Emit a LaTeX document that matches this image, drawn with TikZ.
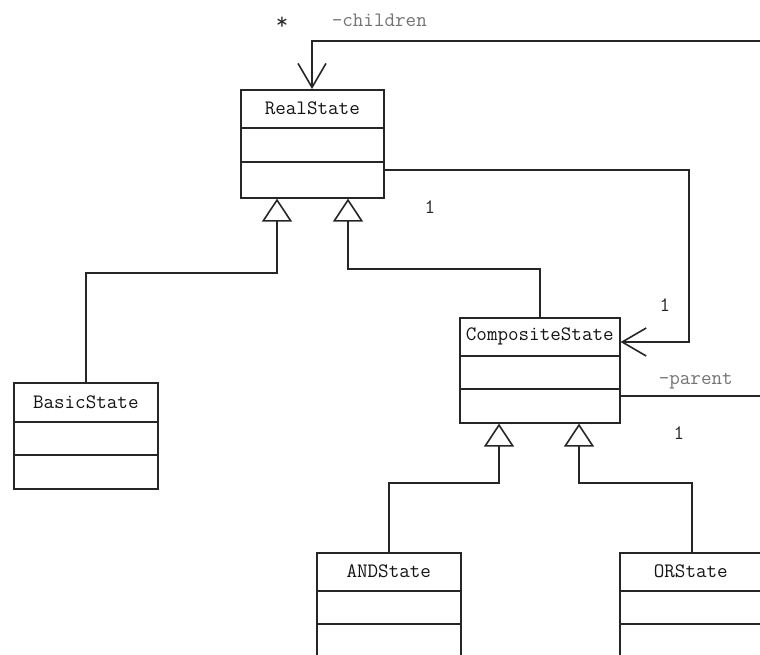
\documentclass[tikz,border=0pt]{standalone}
\usetikzlibrary{arrows.meta,calc}

\begin{document}
\begin{tikzpicture}[x=1pt,y=-1pt,
  line width=1.6pt,
  cls/.style={draw=black!85, line width=1.6pt, rectangle, anchor=north west, inner sep=0pt},
  clsname/.style={font=\ttfamily\fontsize{20.5}{20.5}\selectfont, text=black!92, inner sep=0pt},
  rolelbl/.style={font=\ttfamily\fontsize{20.5}{20.5}\selectfont, text=black!55, inner sep=0pt, anchor=west},
  multlbl/.style={font=\ttfamily\fontsize{20.5}{20.5}\selectfont, text=black!85, inner sep=0pt},
  gen/.style={draw=black!85, -{Triangle[open,length=23pt,width=30pt,line width=1.6pt]}},
  assoc/.style={draw=black!85, -{Straight Barb[length=24pt,width=28pt,line width=1.6pt]}},
  plainline/.style={draw=black!85}
]
\useasboundingbox (0,0) rectangle (760,655);

% class boxes: whole frame, two compartment dividers, name in the header
\newcommand{\umlbox}[8]{%
  % #1 name, #2 x, #3 y, #4 width, #5 height, #6 first divider, #7 second divider, #8 label
  \node[cls, minimum width=#4pt, minimum height=#5pt] (#1) at (#2,#3) {};
  \draw[plainline] ($(#1.north west)+(0,#6)$) -- ($(#1.north east)+(0,#6)$);
  \draw[plainline] ($(#1.north west)+(0,#7)$) -- ($(#1.north east)+(0,#7)$);
  \node[clsname] at ($(#1.north)+(0,#6/2)$) {#8};
}

\begin{scope}
\clip (0,0) rectangle (760,655);
\umlbox{rs}{240}{89}{143}{108}{39}{73}{RealState}
\umlbox{bs}{13}{382}{144}{106}{40}{73}{BasicState}
\umlbox{cs}{459}{317}{160}{105}{39}{72}{CompositeState}
\umlbox{as}{316}{552}{144}{140}{39}{72}{ANDState}
\umlbox{os}{619}{552}{142}{140}{39}{72}{ORState}

% generalisations
\draw[gen] (bs.north) |- (277,273) -- (277,0 |- rs.south);
\draw[gen] (cs.north) |- (348,269) -- (348,0 |- rs.south);
\draw[gen] (as.north) |- (499,483) -- (499,0 |- cs.south);
\draw[gen] (692,0 |- os.north) |- (579,483) -- (579,0 |- cs.south);

% associations
\coordinate (chEnd) at (765,41);
\draw[assoc] (chEnd) -| (312,0 |- rs.north);
\draw[assoc] (rs.east |- 0,170) -| (689,342) -- (cs.east |- 0,342);
\coordinate (paEnd) at (765,396);
\draw[plainline] (cs.east |- 0,396) -- (paEnd);
\end{scope}

% role names and multiplicities
\node[multlbl, font=\ttfamily\fontsize{24}{24}\selectfont] (star) at (282,23) {*};
\node[rolelbl] (chl) at (331,20) {-children};
\node[rolelbl] (pal) at (658,381) {-parent};
\node[multlbl] (m1) at (430,207) {1};
\node[multlbl] (m2) at (665,305) {1};
\node[multlbl] (m3) at (679,433) {1};
\end{tikzpicture}
\end{document}
